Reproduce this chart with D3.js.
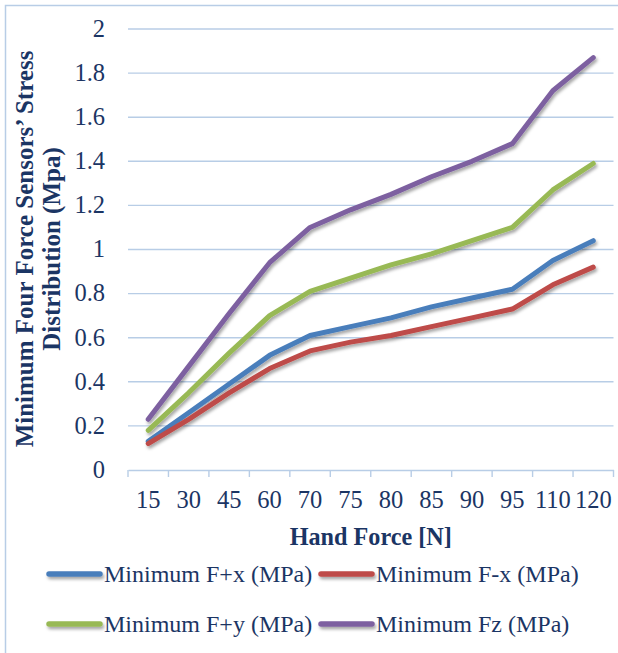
<!DOCTYPE html>
<html>
<head>
<meta charset="utf-8">
<script src="https://cdn.jsdelivr.net/npm/d3@7/dist/d3.min.js"></script>
<style>
  html, body { margin: 0; padding: 0; background: #fff; }
  svg { display: block; }
  text { font-family: "Liberation Serif", "DejaVu Serif", serif; fill: #1b3564; }
</style>
</head>
<body>
<svg id="chart" width="618" height="653"></svg>
<script>
// Hand force categories (N)
const categories = ["15", "30", "45", "60", "70", "75", "80", "85", "90", "95", "110", "120"];

// Minimum stress per sensor direction (MPa)
const minFpx = [0.13, 0.26, 0.39, 0.52, 0.61, 0.65, 0.69, 0.74, 0.78, 0.82, 0.95, 1.04];
const minFmx = [0.12, 0.23, 0.35, 0.46, 0.54, 0.58, 0.61, 0.65, 0.69, 0.73, 0.84, 0.92];
const minFpy = [0.18, 0.35, 0.53, 0.70, 0.81, 0.87, 0.93, 0.98, 1.04, 1.10, 1.27, 1.39];
const minFz  = [0.23, 0.47, 0.71, 0.94, 1.10, 1.18, 1.25, 1.33, 1.40, 1.48, 1.72, 1.87];

const seriesNames = ["Minimum F+x (MPa)", "Minimum F-x (MPa)", "Minimum F+y (MPa)", "Minimum Fz (MPa)"];
const seriesColors = ["#4a7ebb", "#be4b48", "#98b954", "#7d60a0"];

const yTicks = [0, 0.2, 0.4, 0.6, 0.8, 1, 1.2, 1.4, 1.6, 1.8, 2];

const series = [minFpx, minFmx, minFpy, minFz].map((vals, i) => ({
  name: seriesNames[i], color: seriesColors[i], values: vals
}));

const svg = d3.select("#chart");
const gridColor = "#b8cde6";

// soft shadow under the lines (user-space region so flat lines keep it)
const defs = svg.append("defs");
const f = defs.append("filter").attr("id", "shadow")
  .attr("filterUnits", "userSpaceOnUse")
  .attr("x", 0).attr("y", 0).attr("width", 618).attr("height", 653);
f.append("feDropShadow").attr("dx", 1.5).attr("dy", 2.5).attr("stdDeviation", 1.6)
  .attr("flood-color", "#000").attr("flood-opacity", 0.35);

// outer frame
svg.append("rect")
  .attr("x", 5.5).attr("y", 5.5).attr("width", 700).attr("height", 700)
  .attr("fill", "none").attr("stroke", gridColor).attr("stroke-width", 1.5);

const x = d3.scaleBand().domain(categories).range([128, 613.5]).padding(0);
const y = d3.scaleLinear().domain([0, 2]).range([470, 29]);
const cx = c => x(c) + x.bandwidth() / 2;

// horizontal gridlines
svg.append("g").selectAll("line").data(yTicks.filter(d => d > 0)).join("line")
  .attr("x1", 128).attr("x2", 613.5)
  .attr("y1", d => y(d)).attr("y2", d => y(d))
  .attr("stroke", gridColor).attr("stroke-width", 1.4);

// y axis labels
const yAxis = d3.axisLeft(y).tickValues(yTicks).tickSize(0).tickPadding(0)
  .tickFormat(d => String(+d.toFixed(1)));
const gy = svg.append("g").attr("transform", "translate(105,0)").call(yAxis);
gy.select(".domain").remove();
gy.selectAll("text").attr("font-size", 24.5).attr("dy", "0.3em")
  .style("font-family", "Liberation Serif, serif").attr("fill", "#1b3564");

// x axis line and category labels
const xAxis = d3.axisBottom(x).tickSize(0).tickPadding(0);
const gx = svg.append("g").attr("transform", "translate(0,470)").call(xAxis);
gx.select(".domain").attr("stroke", gridColor).attr("stroke-width", 1.4);
gx.selectAll("text").attr("font-size", 24.5).attr("dy", "1.56em")
  .style("font-family", "Liberation Serif, serif").attr("fill", "#1b3564");

// tick marks between categories
const edges = categories.map(c => x(c)).concat([x.range()[1]]);
svg.append("g").selectAll("line").data(edges).join("line")
  .attr("x1", d => d).attr("x2", d => d)
  .attr("y1", 470).attr("y2", 477)
  .attr("stroke", gridColor).attr("stroke-width", 1.4);

// axis titles
svg.append("text")
  .attr("x", (128 + 613.5) / 2).attr("y", 545)
  .attr("text-anchor", "middle").attr("font-size", 24.2).attr("font-weight", "bold")
  .text("Hand Force [N]");

const yTitle = svg.append("text")
  .attr("transform", "translate(0,249) rotate(-90)")
  .attr("text-anchor", "middle").attr("font-size", 25).attr("font-weight", "bold");
yTitle.append("tspan").attr("x", 0).attr("y", 33).text("Minimum Four Force Sensors\u2019 Stress");
yTitle.append("tspan").attr("x", 0).attr("y", 60).text("Distribution  (Mpa)");

// series lines
const line = d3.line().x((d, i) => cx(categories[i])).y(d => y(d));
svg.append("g").attr("filter", "url(#shadow)")
  .selectAll("path").data(series).join("path")
  .attr("d", d => line(d.values))
  .attr("fill", "none").attr("stroke", d => d.color)
  .attr("stroke-width", 5).attr("stroke-linecap", "round").attr("stroke-linejoin", "round");

// legend
const legendPos = [[47, 574], [319, 574], [47, 624], [319, 624]];
const lg = svg.append("g");
series.forEach((s, i) => {
  const [lx, ly] = legendPos[i];
  lg.append("line")
    .attr("x1", lx + 2).attr("x2", lx + 53).attr("y1", ly).attr("y2", ly)
    .attr("stroke", s.color).attr("stroke-width", 5.5).attr("stroke-linecap", "round")
    .attr("filter", "url(#shadow)");
  lg.append("text")
    .attr("x", lx + 57).attr("y", ly).attr("dy", "0.33em")
    .attr("font-size", 24)
    .text(s.name);
});
</script>
</body>
</html>
